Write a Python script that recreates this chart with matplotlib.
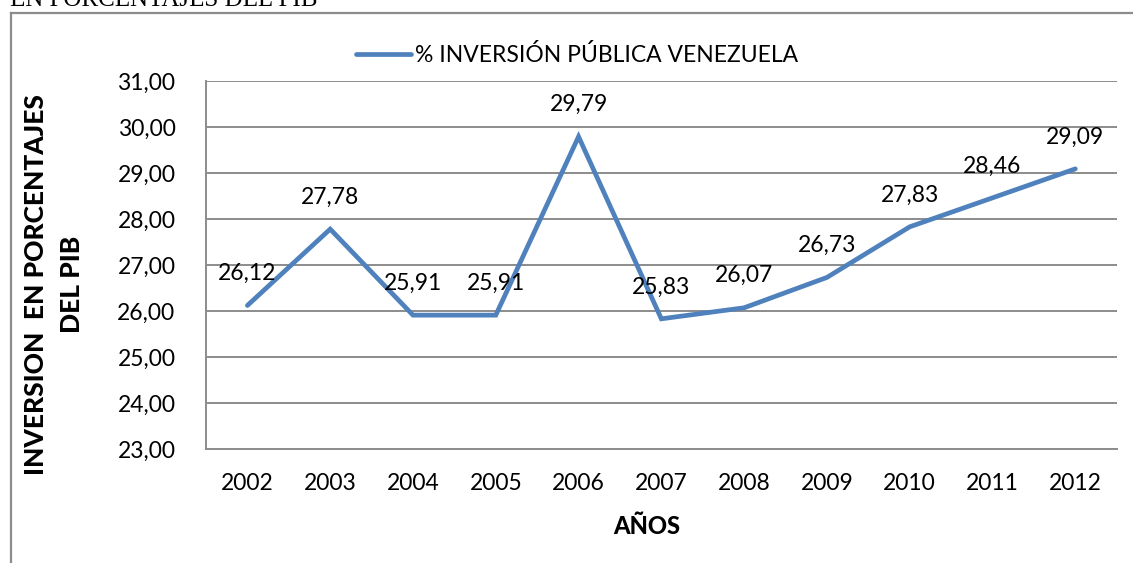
import matplotlib.pyplot as plt
from matplotlib.lines import Line2D

# datos
years = ['2002', '2003', '2004', '2005', '2006', '2007', '2008', '2009', '2010', '2011', '2012']
inversion = [26.12, 27.78, 25.91, 25.91, 29.79, 25.83, 26.07, 26.73, 27.83, 28.46, 29.09]
y_ticks = [23, 24, 25, 26, 27, 28, 29, 30, 31]

plt.rcParams['font.family'] = ['Lato', 'DejaVu Sans']

W, H = 1133, 563
fig = plt.figure(figsize=(W / 100, H / 100), dpi=100)
ax = fig.add_axes([206 / W, 1 - 449 / H, (1116.7 - 206) / W, (449 - 81) / H])

grey = '#8c8c8c'
blue = '#4f81bd'

x = list(range(len(years)))
ax.plot(x, inversion, color=blue, lw=3.4, solid_capstyle='round',
        solid_joinstyle='miter', label='% INVERSIÓN PÚBLICA VENEZUELA', zorder=3)

for xi, v in zip(x, inversion):
    ax.annotate(f'{v:.2f}'.replace('.', ','), (xi, v), xytext=(0, 23),
                textcoords='offset points', ha='center', va='center',
                fontsize=16.5, color='black', zorder=4)

ax.set_xlim(-0.5, len(years) - 0.5)
ax.set_ylim(23, 31)
ax.set_xticks(x)
ax.set_xticklabels(years)
ax.set_yticks(y_ticks)
ax.set_yticklabels([f'{t:.2f}'.replace('.', ',') for t in y_ticks])
ax.tick_params(axis='both', length=0, labelsize=16.5)
ax.tick_params(axis='y', pad=22)
ax.tick_params(axis='x', pad=17)
ax.grid(axis='y', color=grey, lw=1.4)
ax.set_axisbelow(True)
for s in ['top', 'right']:
    ax.spines[s].set_visible(False)
for s in ['left', 'bottom']:
    ax.spines[s].set_color(grey)
    ax.spines[s].set_linewidth(1.4)

fig.text(0.5 * (206 + 1116.7) / W - 0.013, 1 - 526 / H, 'AÑOS', ha='center', va='center',
         fontsize=17, fontweight='black')
fig.text(54 / W, 1 - 284.5 / H, 'INVERSION  EN PORCENTAJES\nDEL PIB', rotation=90,
         ha='center', va='center', multialignment='center', fontsize=19,
         fontweight='black', linespacing=1.6)

fig.legend(handles=[Line2D([], [], color=blue, lw=3.4, solid_capstyle='round')],
           labels=['% INVERSIÓN PÚBLICA VENEZUELA'], loc='center',
           bbox_to_anchor=(577 / W, 1 - 55 / H), frameon=False, fontsize=16.5,
           handlelength=2.4, handletextpad=0.15)

# texto del titulo recortado arriba
fig.text(10 / W, 1 - 6 / H, 'EN PORCENTAJES DEL PIB', family='Liberation Serif',
         fontsize=18, va='baseline', ha='left')

# marco exterior
fig.add_artist(Line2D([11 / W, 11 / W], [0, 1 - 13 / H], color=grey, lw=1.6))
fig.add_artist(Line2D([11 / W, 1], [1 - 13 / H, 1 - 13 / H], color=grey, lw=1.6))

fig.savefig('out.png', dpi=100)
